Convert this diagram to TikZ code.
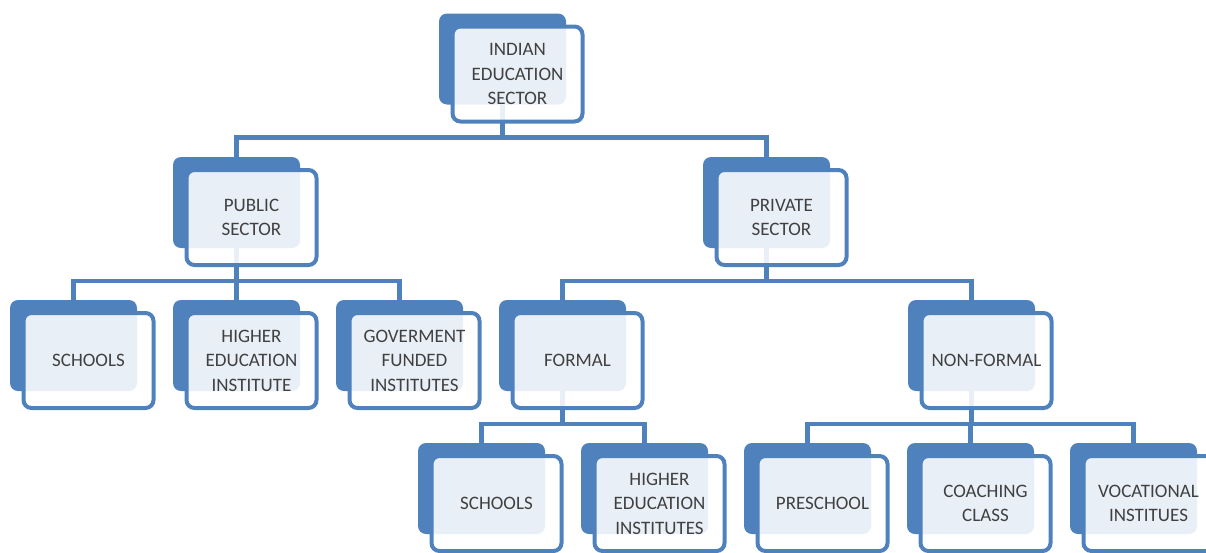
\documentclass[tikz,border=0pt]{standalone}
\usepackage{fontspec}
\setmainfont{Carlito}
\definecolor{boxblue}{HTML}{4F81BD}
\definecolor{textgray}{HTML}{404040}

\begin{document}
\begin{tikzpicture}[x=1pt,y=-1pt,node distance=163pt]
\tikzstyle{back}=[fill=boxblue,rounded corners=8pt,minimum width=127pt,minimum height=91pt,inner sep=0pt]
\tikzstyle{front}=[draw=boxblue,line width=4pt,fill=white,fill opacity=0.88,text opacity=1,rounded corners=8pt,minimum width=130pt,minimum height=95pt,inner sep=0pt,align=center,text=textgray,font=\fontsize{19}{24.5}\selectfont]
\tikzstyle{link}=[draw=boxblue,line width=4.5pt]
\useasboundingbox (0,0) rectangle (1206,552);
% back plates
\node [back] (ies) at (502.5,59) {};
\node [back] (pub) at (236.5,202.5) {};
\node [back] (priv) at (766.5,202.5) {};
\node [back] (pubS) at (73.5,345.5) {};
\node [back,right of=pubS] (pubH) {};
\node [back,right of=pubH] (pubG) {};
\node [back,right of=pubG] (form) {};
\node [back] (nform) at (971.5,345.5) {};
\node [back] (formS) at (481.5,488.5) {};
\node [back,right of=formS] (formH) {};
\node [back,right of=formH] (pre) {};
\node [back,right of=pre] (coach) {};
\node [back,right of=coach] (voc) {};
% connectors
\draw [link] (ies.south) -- ++(0,33) -| (pub.north);
\draw [link] (ies.south) -- ++(0,33) -| (priv.north);
\draw [link] (pub.south) -- ++(0,33) -| (pubS.north);
\draw [link] (pub.south) -- ++(0,33) -| (pubH.north);
\draw [link] (pub.south) -- ++(0,33) -| (pubG.north);
\draw [link] (priv.south) -- ++(0,33) -| (form.north);
\draw [link] (priv.south) -- ++(0,33) -| (nform.north);
\draw [link] (form.south) -- ++(0,33) -| (formS.north);
\draw [link] (form.south) -- ++(0,33) -| (formH.north);
\draw [link] (nform.south) -- ++(0,33) -| (pre.north);
\draw [link] (nform.south) -- ++(0,33) -| (coach.north);
\draw [link] (nform.south) -- ++(0,33) -| (voc.north);
% front cards
\node [front] (iesT) at ([shift={(15,15)}]ies.center) {INDIAN\\EDUCATION\\SECTOR};
\node [front] (pubT) at ([shift={(15,15)}]pub.center) {PUBLIC\\SECTOR};
\node [front] (privT) at ([shift={(15,15)}]priv.center) {PRIVATE\\SECTOR};
\node [front] (pubST) at ([shift={(15,15)}]pubS.center) {SCHOOLS};
\node [front] (pubHT) at ([shift={(15,15)}]pubH.center) {HIGHER\\EDUCATION\\INSTITUTE};
\node [front] (pubGT) at ([shift={(15,15)}]pubG.center) {GOVERMENT\\FUNDED\\INSTITUTES};
\node [front] (formT) at ([shift={(15,15)}]form.center) {FORMAL};
\node [front] (nformT) at ([shift={(15,15)}]nform.center) {NON-FORMAL};
\node [front] (formST) at ([shift={(15,15)}]formS.center) {SCHOOLS};
\node [front] (formHT) at ([shift={(15,15)}]formH.center) {HIGHER\\EDUCATION\\INSTITUTES};
\node [front] (preT) at ([shift={(15,15)}]pre.center) {PRESCHOOL};
\node [front] (coachT) at ([shift={(15,15)}]coach.center) {COACHING\\CLASS};
\node [front] (vocT) at ([shift={(15,15)}]voc.center) {VOCATIONAL\\INSTITUES};
\end{tikzpicture}
\end{document}
